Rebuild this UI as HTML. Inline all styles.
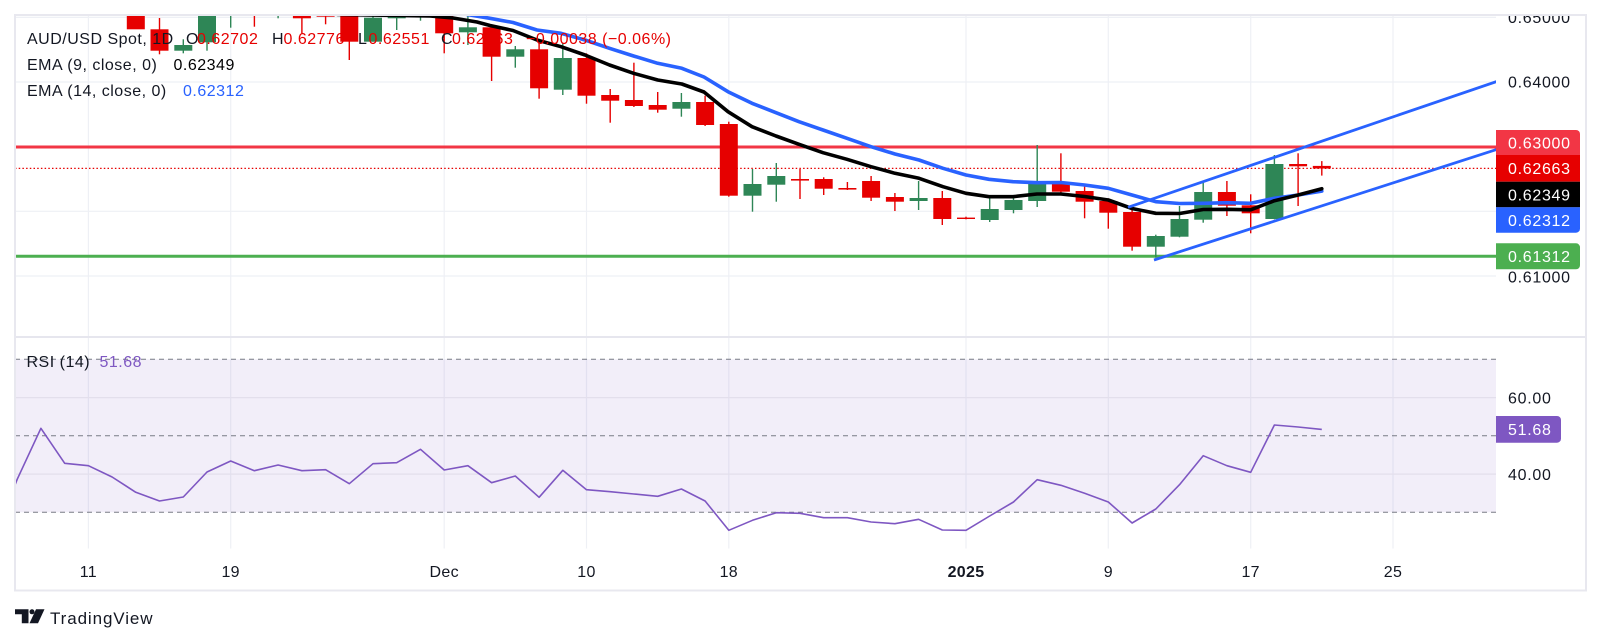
<!DOCTYPE html>
<html>
<head>
<meta charset="utf-8">
<style>
  html,body{margin:0;padding:0;background:#fff;}
  svg{display:block;}
  text{font-family:"Liberation Sans",sans-serif;}
</style>
</head>
<body>
<svg width="1601" height="644" viewBox="0 0 1601 644" xmlns="http://www.w3.org/2000/svg">
  <defs>
    <clipPath id="mainClip"><rect x="15" y="15" width="1481" height="322"/></clipPath>
    <clipPath id="rsiClip"><rect x="15" y="338" width="1481" height="211"/></clipPath>
    <clipPath id="axisClip"><rect x="1496" y="15" width="90" height="322"/></clipPath>
  </defs>
  <rect x="0" y="0" width="1601" height="644" fill="#fff"/>

  <!-- ===== GRID ===== -->
  <g stroke="#eef0f5" stroke-width="1.2">
    <line x1="15" y1="17.4" x2="1496" y2="17.4"/>
    <line x1="15" y1="82" x2="1496" y2="82"/>
    <line x1="15" y1="146.7" x2="1496" y2="146.7"/>
    <line x1="15" y1="211.3" x2="1496" y2="211.3"/>
    <line x1="15" y1="276" x2="1496" y2="276"/>
    <line x1="88.4" y1="15" x2="88.4" y2="548.5"/>
    <line x1="230.7" y1="15" x2="230.7" y2="548.5"/>
    <line x1="444.2" y1="15" x2="444.2" y2="548.5"/>
    <line x1="586.5" y1="15" x2="586.5" y2="548.5"/>
    <line x1="728.8" y1="15" x2="728.8" y2="548.5"/>
    <line x1="966" y1="15" x2="966" y2="548.5"/>
    <line x1="1108.3" y1="15" x2="1108.3" y2="548.5"/>
    <line x1="1250.7" y1="15" x2="1250.7" y2="548.5"/>
    <line x1="1393" y1="15" x2="1393" y2="548.5"/>
  </g>

  <!-- ===== MAIN PANE ===== -->
  <g clip-path="url(#mainClip)">
    <line x1="15" y1="147" x2="1496" y2="147" stroke="#f23645" stroke-width="3"/>
    <line x1="15" y1="256.3" x2="1496" y2="256.3" stroke="#4caf50" stroke-width="3"/>
    <line x1="15" y1="168.4" x2="1496" y2="168.4" stroke="#e60000" stroke-width="1.2" stroke-dasharray="1.5 2.2"/>

    <g fill="#e60000">
      <rect x="126.8" y="0" width="18" height="29.3"/>
      <rect x="158.8" y="18" width="1.4" height="36.3"/><rect x="150.5" y="29.3" width="18" height="21.4"/>
      <rect x="253.7" y="10" width="1.4" height="16.7"/><rect x="245.4" y="14" width="18" height="1.8"/>
      <rect x="301.2" y="10" width="1.4" height="23.3"/><rect x="292.9" y="12" width="18" height="6.3"/>
      <rect x="324.9" y="10" width="1.4" height="14.3"/><rect x="316.6" y="13" width="18" height="3.7"/>
      <rect x="348.6" y="5" width="1.4" height="55"/><rect x="340.3" y="5" width="18" height="36.7"/>
      <rect x="443.5" y="10" width="1.4" height="43.3"/><rect x="435.2" y="10" width="18" height="23.3"/>
      <rect x="490.9" y="25" width="1.4" height="56"/><rect x="482.6" y="27.3" width="18" height="29.4"/>
      <rect x="538.4" y="43.3" width="1.4" height="55.4"/><rect x="530.1" y="49.3" width="18" height="39"/>
      <rect x="585.8" y="53.3" width="1.4" height="50.4"/><rect x="577.5" y="58" width="18" height="37.7"/>
      <rect x="609.5" y="89" width="1.4" height="33.7"/><rect x="601.2" y="95" width="18" height="5.7"/>
      <rect x="633.2" y="62.7" width="1.4" height="44.3"/><rect x="624.9" y="100" width="18" height="6"/>
      <rect x="657" y="92" width="1.4" height="20.7"/><rect x="648.7" y="105" width="18" height="4.7"/>
      <rect x="704.4" y="95.7" width="1.4" height="30.3"/><rect x="696.1" y="102" width="18" height="23"/>
      <rect x="728.1" y="121.7" width="1.4" height="75"/><rect x="719.8" y="124" width="18" height="71.7"/>
      <rect x="799.3" y="169" width="1.4" height="30"/><rect x="791" y="179" width="18" height="1.6"/>
      <rect x="823" y="177.3" width="1.4" height="17.7"/><rect x="814.7" y="179" width="18" height="9.7"/>
      <rect x="846.7" y="182" width="1.4" height="8"/><rect x="838.4" y="188" width="18" height="1.6"/>
      <rect x="870.4" y="176" width="1.4" height="25"/><rect x="862.1" y="181" width="18" height="16.7"/>
      <rect x="894.2" y="193" width="1.4" height="18"/><rect x="885.9" y="197" width="18" height="4.7"/>
      <rect x="941.6" y="191" width="1.4" height="34"/><rect x="933.3" y="198" width="18" height="21"/>
      <rect x="965.3" y="216.7" width="1.4" height="2.6"/><rect x="957" y="217.6" width="18" height="1.4"/>
      <rect x="1060.2" y="153.3" width="1.4" height="40"/><rect x="1051.9" y="182.7" width="18" height="9"/>
      <rect x="1083.9" y="184" width="1.4" height="34.3"/><rect x="1075.6" y="191" width="18" height="10.7"/>
      <rect x="1107.6" y="198.3" width="1.4" height="30.4"/><rect x="1099.3" y="201" width="18" height="11.7"/>
      <rect x="1131.4" y="206.7" width="1.4" height="44"/><rect x="1123.1" y="212" width="18" height="34.7"/>
      <rect x="1226.2" y="181" width="1.4" height="35"/><rect x="1217.9" y="192" width="18" height="13.7"/>
      <rect x="1250" y="194.3" width="1.4" height="39"/><rect x="1241.7" y="205.3" width="18" height="8"/>
      <rect x="1297.4" y="153.3" width="1.4" height="52.7"/><rect x="1289.1" y="164" width="18" height="2.3"/>
      <rect x="1321.1" y="161.1" width="1.4" height="14.5"/><rect x="1312.8" y="165.9" width="18" height="2.6"/>
    </g>
    <g fill="#2e8656">
      <rect x="182.6" y="39.3" width="1.4" height="14"/><rect x="174.3" y="45" width="18" height="5.7"/>
      <rect x="206.3" y="5" width="1.4" height="45.7"/><rect x="198" y="5" width="18" height="37.3"/>
      <rect x="230" y="5" width="1.4" height="22.7"/><rect x="221.7" y="10" width="18" height="3"/>
      <rect x="277.4" y="10" width="1.4" height="8.3"/><rect x="269.1" y="14.5" width="18" height="1.5"/>
      <rect x="372.3" y="10" width="1.4" height="31.7"/><rect x="364" y="17.7" width="18" height="24"/>
      <rect x="396" y="10" width="1.4" height="20"/><rect x="387.7" y="12" width="18" height="6.3"/>
      <rect x="419.8" y="10" width="1.4" height="10.7"/><rect x="411.5" y="14" width="18" height="2"/>
      <rect x="467.2" y="15" width="1.4" height="30"/><rect x="458.9" y="27.3" width="18" height="5"/>
      <rect x="514.6" y="46" width="1.4" height="21.7"/><rect x="506.3" y="49.3" width="18" height="7.4"/>
      <rect x="562.1" y="43.3" width="1.4" height="51.7"/><rect x="553.8" y="58" width="18" height="31.7"/>
      <rect x="680.7" y="93" width="1.4" height="23.7"/><rect x="672.4" y="102" width="18" height="6.7"/>
      <rect x="751.8" y="169" width="1.4" height="42.7"/><rect x="743.5" y="184" width="18" height="11.7"/>
      <rect x="775.6" y="163" width="1.4" height="38.7"/><rect x="767.3" y="176" width="18" height="8.7"/>
      <rect x="917.9" y="181" width="1.4" height="29"/><rect x="909.6" y="198" width="18" height="3"/>
      <rect x="989" y="197" width="1.4" height="25"/><rect x="980.7" y="209" width="18" height="11"/>
      <rect x="1012.8" y="195" width="1.4" height="18.3"/><rect x="1004.5" y="200" width="18" height="10"/>
      <rect x="1036.5" y="145" width="1.4" height="62"/><rect x="1028.2" y="183" width="18" height="18"/>
      <rect x="1155.1" y="234.7" width="1.4" height="23"/><rect x="1146.8" y="236" width="18" height="10.7"/>
      <rect x="1178.8" y="206" width="1.4" height="31.3"/><rect x="1170.5" y="219" width="18" height="17.7"/>
      <rect x="1202.5" y="181.3" width="1.4" height="41.4"/><rect x="1194.2" y="192" width="18" height="27.7"/>
      <rect x="1273.7" y="155" width="1.4" height="64.3"/><rect x="1265.4" y="164" width="18" height="55"/>
    </g>

    <polyline fill="none" stroke="#2962ff" stroke-width="3.6" stroke-linejoin="round" stroke-linecap="round"
      points="440,8 467,14.5 490,18.3 513,22.5 537,30 561,33.3 585,40 609.5,48.3 633.6,56 657.7,63.3 681.8,68.3 704,77 728,91.7 752,103.3 776,112.7 799,121.7 823,130 847,138.3 871,146.7 895,154 919,160 943,168.3 966,175 989,179.3 1013,181.7 1037,182.7 1061,182.5 1084.6,185 1108.3,188.3 1132,195 1155.8,201.7 1179.5,203.5 1203.2,203.3 1226.9,202.7 1250.7,203.3 1274.4,198.3 1298.1,195 1321.8,191.1"/>
    <polyline fill="none" stroke="#000" stroke-width="3.6" stroke-linejoin="round" stroke-linecap="round"
      points="300,8 338,14.5 430,16 453,18 477,22 490,25.5 513,30.5 537,40 561,46.7 585,55 609.5,65 633.6,73.3 657.7,80 681.8,84 704,92 728,111.7 752,126.7 776,136 799,144.3 823,152.7 847,159.3 871,166.7 895,173.3 919,178.3 943,186.7 966,193.3 989,196.7 1013,196.7 1037,194 1061,194 1084.6,196.5 1108.3,200 1132,208.5 1155.8,213.3 1179.5,213.5 1203.2,209.5 1226.9,209.3 1250.7,209.8 1274.4,200.7 1298.1,195 1321.8,188.7"/>

    <line x1="1128" y1="207.3" x2="1500" y2="80.4" stroke="#2962ff" stroke-width="2.8"/>
    <line x1="1154" y1="260" x2="1500" y2="148.4" stroke="#2962ff" stroke-width="2.8"/>
  </g>

  <g font-size="16" letter-spacing="0.5" fill="#131722">
    <text x="27" y="44.1">AUD/USD Spot, 1D</text>
    <text x="186" y="44.1">O</text>
    <text x="197" y="44.1" fill="#e60000">0.62702</text>
    <text x="272" y="44.1">H</text>
    <text x="283.5" y="44.1" fill="#e60000">0.62776</text>
    <text x="358" y="44.1">L</text>
    <text x="368.5" y="44.1" fill="#e60000">0.62551</text>
    <text x="441" y="44.1">C</text>
    <text x="452" y="44.1" fill="#e60000">0.62663</text>
    <text x="526" y="44.1" fill="#e60000">−0.00038 (−0.06%)</text>
    <text x="27" y="69.8">EMA (9, close, 0)</text>
    <text x="173.5" y="69.8" fill="#000">0.62349</text>
    <text x="27" y="95.8">EMA (14, close, 0)</text>
    <text x="183" y="95.8" fill="#2962ff">0.62312</text>
  </g>

  <g clip-path="url(#axisClip)" font-size="16" letter-spacing="0.7">
    <text x="1508" y="23.2" fill="#131722">0.65000</text>
    <text x="1508" y="87.5" fill="#131722">0.64000</text>
    <text x="1508" y="282.4" fill="#131722">0.61000</text>
    <path d="M1496,130 H1576 a4,4 0 0 1 4,4 V155 H1496 Z" fill="#f23645"/>
    <text x="1508" y="148.3" fill="#fff">0.63000</text>
    <rect x="1496" y="155" width="84" height="26.7" fill="#e60000"/>
    <text x="1508" y="174.2" fill="#fff">0.62663</text>
    <rect x="1496" y="181.7" width="84" height="25.6" fill="#000"/>
    <text x="1508" y="200.3" fill="#fff">0.62349</text>
    <path d="M1496,207.3 H1580 V228.7 a4,4 0 0 1 -4,4 H1496 Z" fill="#2962ff"/>
    <text x="1508" y="225.8" fill="#fff">0.62312</text>
    <path d="M1496,243.3 H1576 a4,4 0 0 1 4,4 V265.3 a4,4 0 0 1 -4,4 H1496 Z" fill="#4caf50"/>
    <text x="1508" y="262.1" fill="#fff">0.61312</text>
  </g>

  <rect x="15" y="359.3" width="1481" height="153" fill="rgba(126,87,194,0.1)"/>
  <g stroke="#e3dfec" stroke-width="1.2">
    <line x1="15" y1="397.6" x2="1496" y2="397.6"/>
    <line x1="15" y1="474.1" x2="1496" y2="474.1"/>
  </g>
  <g stroke="#787b86" stroke-width="1" stroke-dasharray="5 4">
    <line x1="15" y1="359.3" x2="1496" y2="359.3"/>
    <line x1="15" y1="435.8" x2="1496" y2="435.8"/>
    <line x1="15" y1="512.3" x2="1496" y2="512.3"/>
  </g>
  <g clip-path="url(#rsiClip)">
    <polyline fill="none" stroke="#7e57c2" stroke-width="1.6" stroke-linejoin="round"
      points="15,485 17.2,479.3 40.9,428.3 64.7,463.3 88.4,465.7 112.1,477 135.8,492.3 159.5,501 183.3,497 207,472 230.7,461 254.4,470.7 278.1,465 301.9,470.7 325.6,469.7 349.3,483.7 373,463.7 396.7,462.7 420.5,449.3 444.2,470 467.9,465.7 491.6,482.7 515.3,476 539.1,497.3 562.8,470.3 586.5,489.7 610.2,491.7 633.9,494 657.7,496.3 681.4,489 705.1,501 728.8,530.3 752.5,520.3 776.3,512.7 800,513.3 823.7,517.7 847.4,517.7 871.1,522 894.9,523.7 918.6,519.3 942.3,530 966,530.3 989.7,516 1013.5,502 1037.2,479.7 1060.9,485.3 1084.6,493.3 1108.3,502 1132.1,523 1155.8,509 1179.5,484.7 1203.2,455.7 1226.9,465.7 1250.7,472.3 1274.4,425 1298.1,427 1321.8,429.4"/>
  </g>
  <g font-size="16" letter-spacing="0.5">
    <text x="26.5" y="366.8" fill="#131722">RSI (14)</text>
    <text x="99.5" y="366.8" fill="#7e57c2">51.68</text>
  </g>
  <g font-size="16" letter-spacing="0.7">
    <text x="1508" y="403.4" fill="#131722">60.00</text>
    <text x="1508" y="479.9" fill="#131722">40.00</text>
    <path d="M1496,416 H1557 a4,4 0 0 1 4,4 V438.7 a4,4 0 0 1 -4,4 H1496 Z" fill="#7e57c2"/>
    <text x="1508" y="435.2" fill="#fff">51.68</text>
  </g>

  <g font-size="16" fill="#131722" text-anchor="middle" letter-spacing="0.3">
    <text x="88.4" y="576.8">11</text>
    <text x="230.7" y="576.8">19</text>
    <text x="444.2" y="576.8">Dec</text>
    <text x="586.5" y="576.8">10</text>
    <text x="728.8" y="576.8">18</text>
    <text x="966" y="576.8" font-weight="bold">2025</text>
    <text x="1108.3" y="576.8">9</text>
    <text x="1250.7" y="576.8">17</text>
    <text x="1393" y="576.8">25</text>
  </g>

  <line x1="15" y1="337" x2="1586" y2="337" stroke="#e6e6ee" stroke-width="2"/>
  <rect x="15" y="15" width="1571" height="575.5" fill="none" stroke="#e8e8ef" stroke-width="2"/>

  <g fill="#131722">
    <path d="M15,609.3 H28.5 V623.3 H21.8 V614.2 H15 Z"/>
    <circle cx="32" cy="611.8" r="2.5"/>
    <path d="M36,609.3 H44.5 L38,623.3 H29.5 Z"/>
    <text x="50" y="623.8" font-size="17" letter-spacing="0.9">TradingView</text>
  </g>
</svg>
</body>
</html>
